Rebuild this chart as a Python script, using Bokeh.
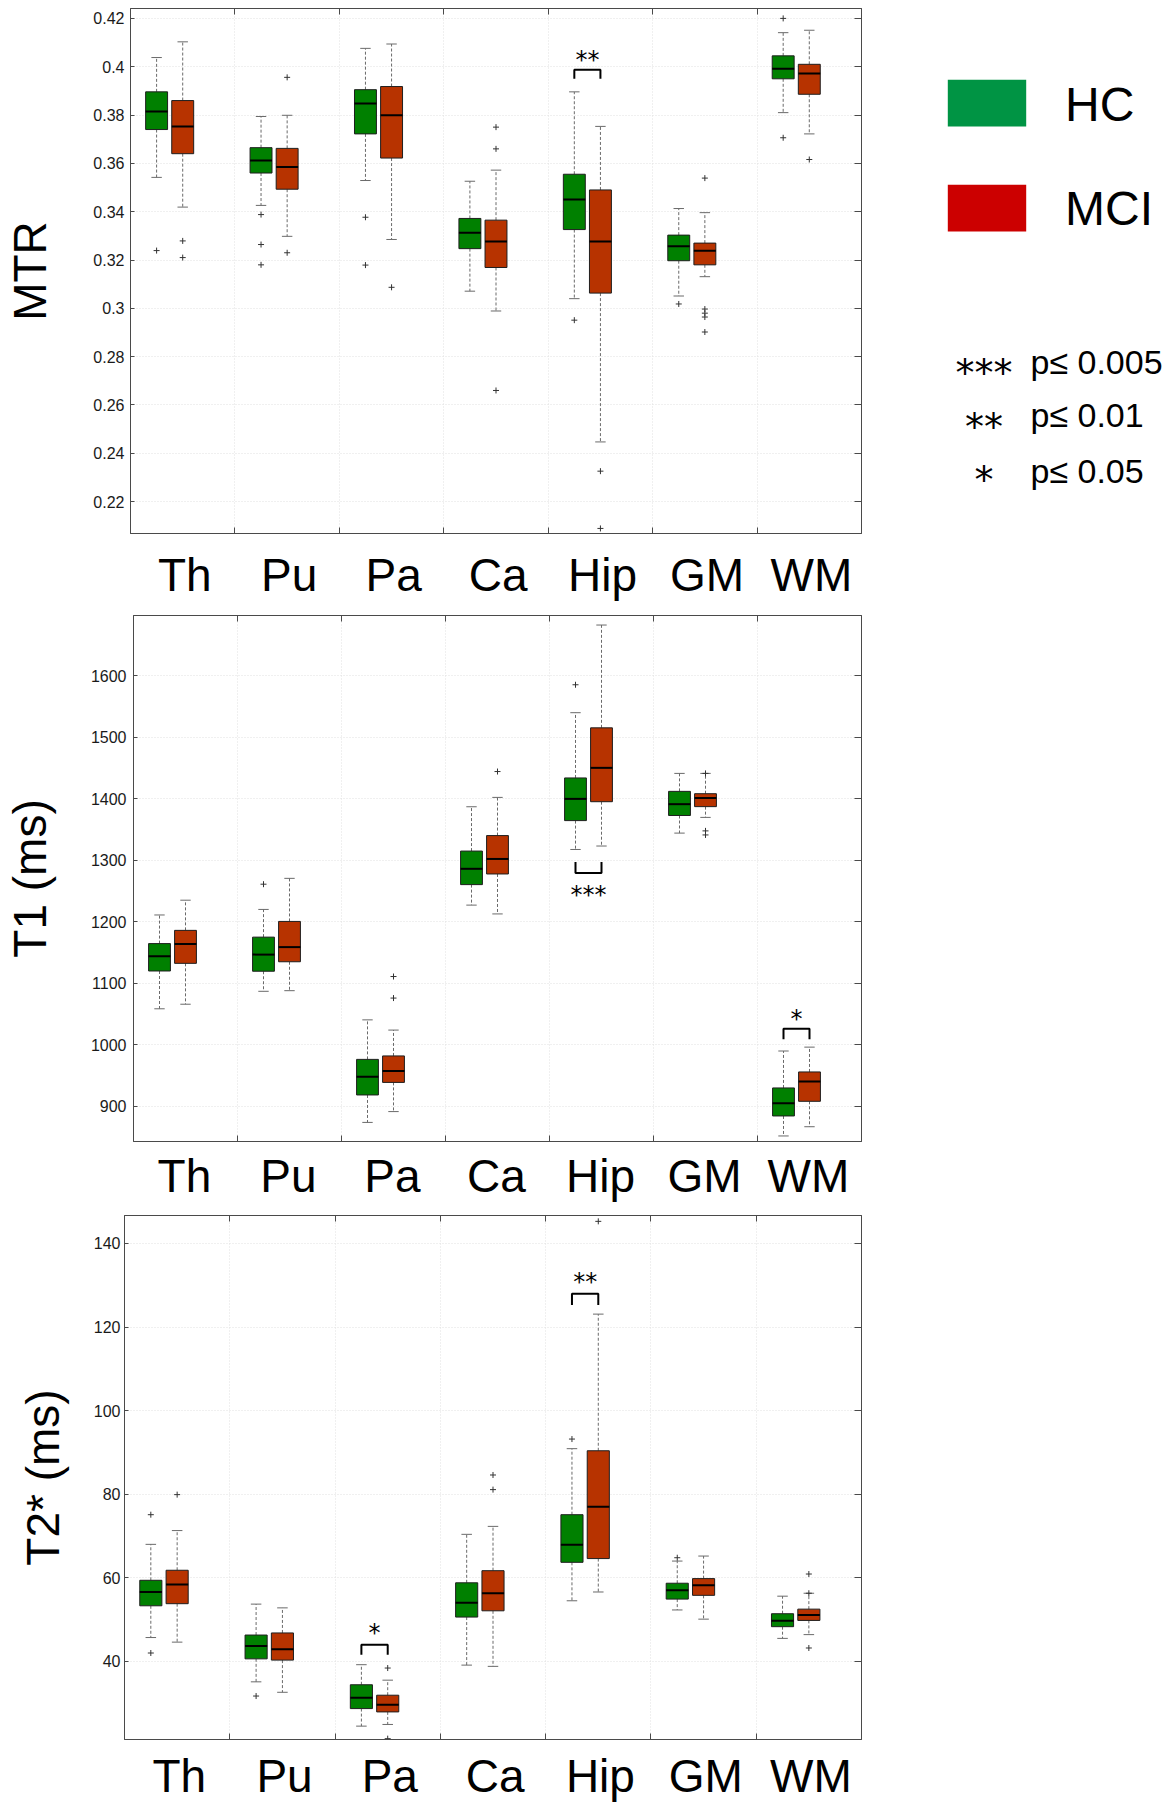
from bokeh.plotting import figure
from bokeh.models import Range1d, LinearAxis, FixedTicker, Grid, ColumnDataSource
from bokeh.layouts import column, row
from bokeh.embed import file_html
from bokeh.resources import INLINE
from bokeh.core.properties import value

categories = ["Th", "Pu", "Pa", "Ca", "Hip", "GM", "WM"]

# ---------------- MTR ----------------
mtr_hc_uw = [0.4038, 0.3794, 0.4076, 0.3526, 0.3896, 0.3413, 0.4141]
mtr_hc_q3 = [0.3896, 0.3665, 0.3905, 0.3372, 0.3555, 0.3303, 0.4045]
mtr_hc_med = [0.3815, 0.3612, 0.3848, 0.3313, 0.3450, 0.3257, 0.3992]
mtr_hc_q1 = [0.3740, 0.3560, 0.3722, 0.3247, 0.3326, 0.3197, 0.3950]
mtr_hc_lw = [0.3542, 0.3426, 0.3529, 0.3071, 0.3040, 0.3051, 0.3810]
mtr_hc_out = [[0.3239], [0.3388, 0.3264, 0.318], [0.3377, 0.3179], [], [0.2951], [0.3018], [0.42, 0.3706]]

mtr_mci_uw = [0.4103, 0.3799, 0.4094, 0.3572, 0.3753, 0.3396, 0.4151]
mtr_mci_q3 = [0.3860, 0.3662, 0.3918, 0.3365, 0.3490, 0.3270, 0.4010]
mtr_mci_med = [0.3753, 0.3585, 0.3799, 0.3277, 0.3277, 0.3238, 0.3972]
mtr_mci_q1 = [0.3640, 0.3493, 0.3622, 0.3169, 0.3063, 0.3180, 0.3886]
mtr_mci_lw = [0.3419, 0.3298, 0.3285, 0.2989, 0.2447, 0.3131, 0.3722]
mtr_mci_out = [[0.3279, 0.321], [0.3956, 0.323], [0.3087], [0.375, 0.366, 0.266], [0.2326, 0.2089],
               [0.3539, 0.2997, 0.298, 0.2964, 0.2902], [0.3616]]

mtr_ticks = [0.22, 0.24, 0.26, 0.28, 0.3, 0.32, 0.34, 0.36, 0.38, 0.4, 0.42]
mtr_tick_labels = ["0.22", "0.24", "0.26", "0.28", "0.3", "0.32", "0.34", "0.36", "0.38", "0.4", "0.42"]
mtr_range = (0.2068, 0.4241)
# (category, stars, bar level, leg end, star centre)
mtr_sig = [("Hip", "**", 0.3987, 0.3950, 0.4042)]

# ---------------- T1 ----------------
t1_hc_uw = [1211, 1220, 1040.6, 1386.8, 1539.6, 1441, 990]
t1_hc_q3 = [1164.5, 1175, 976.4, 1314.8, 1433.6, 1411.8, 930]
t1_hc_med = [1144, 1146.6, 948, 1286, 1399.6, 1391, 905]
t1_hc_q1 = [1120, 1119.6, 918.6, 1260.3, 1364.3, 1372.6, 884.5]
t1_hc_lw = [1058.6, 1087, 874, 1227, 1317.4, 1344, 852]
t1_hc_out = [[], [1261], [], [], [1585], [], []]

t1_mci_uw = [1235, 1270.5, 1024, 1402, 1682, 1441, 996.3]
t1_mci_q3 = [1186, 1200.5, 982, 1340, 1515, 1408, 956]
t1_mci_med = [1164, 1158.8, 957.7, 1302, 1450, 1401, 940.4]
t1_mci_q1 = [1132.4, 1135, 939, 1277.6, 1395, 1387, 908.3]
t1_mci_lw = [1066, 1088, 891.6, 1212.7, 1323, 1369.5, 867]
t1_mci_out = [[], [], [1111, 1076], [1444], [], [1441, 1347.6, 1341], []]

t1_ticks = [900, 1000, 1100, 1200, 1300, 1400, 1500, 1600]
t1_tick_labels = ["900", "1000", "1100", "1200", "1300", "1400", "1500", "1600"]
t1_range = (843, 1697.5)
t1_sig = [("Hip", "***", 1279, 1297, 1250), ("WM", "*", 1026, 1009, 1048)]

# ---------------- T2* ----------------
t2_hc_uw = [68.0, 53.7, 39.2, 70.4, 90.9, 64.0, 55.6]
t2_hc_q3 = [59.4, 46.3, 34.4, 58.8, 75.1, 58.7, 51.4]
t2_hc_med = [56.6, 43.7, 31.3, 54.0, 67.9, 57.0, 49.7]
t2_hc_q1 = [53.3, 40.6, 28.7, 50.6, 63.7, 54.9, 48.3]
t2_hc_lw = [45.7, 35.1, 24.5, 39.1, 54.5, 52.3, 45.5]
t2_hc_out = [[75.1, 42.0], [31.7], [], [], [93.2], [64.8], []]

t2_mci_uw = [71.3, 52.8, 35.5, 72.3, 123.1, 65.2, 56.3]
t2_mci_q3 = [61.8, 46.8, 31.9, 61.7, 90.4, 59.8, 52.5]
t2_mci_med = [58.4, 42.9, 29.6, 56.3, 77.0, 58.2, 51.1]
t2_mci_q1 = [53.8, 40.3, 27.9, 52.1, 64.6, 55.8, 49.8]
t2_mci_lw = [44.6, 32.6, 24.9, 38.8, 56.6, 50.1, 46.4]
t2_mci_out = [[79.9], [], [38.4, 21.5], [84.6, 81.1], [145.3], [], [60.9, 56.3, 43.2]]

t2_ticks = [40, 60, 80, 100, 120, 140]
t2_tick_labels = ["40", "60", "80", "100", "120", "140"]
t2_range = (21.3, 146.7)
t2_sig = [("Pa", "*", 44.0, 41.6, 47.6), ("Hip", "**", 128.0, 125.3, 131.7)]

legend_labels = ["HC", "MCI"]
p_stars = ["***", "**", "*"]
p_texts = ["p\u2264 0.005", "p\u2264 0.01", "p\u2264 0.05"]

# ---------------- style ----------------
FONT = "Liberation Sans"
STAR_FONT = "DejaVu Sans"
AX = "#4a4a4a"
HC_BOX = "#008000"
MCI_BOX = "#B73300"
HC_LEG = "#009444"
MCI_LEG = "#CC0000"
EDGE = "#1e1e1e"
WHISK = "#6a6a6a"
GRID = "#e0e0e0"
OFFS = {"HC": 0.25, "MCI": 0.5}
BW = 0.21
CW = 0.1
FIG_W = 878
FRAME_RIGHT = 861
STAR_K = 0.15


def panel(height, bl, bt, bb, yr, ticks, tick_labels, ylabel, lab_standoff, tick_standoff,
          cat_standoff, label_pos, stats, sigs):
    n = len(categories)
    p = figure(width=FIG_W, height=height, x_range=Range1d(0, n), y_range=Range1d(*yr),
               x_axis_location=None, y_axis_location=None, toolbar_location=None,
               output_backend="svg", min_border_left=bl, min_border_right=FIG_W - FRAME_RIGHT,
               min_border_top=bt, min_border_bottom=bb)
    for g in list(p.grid):
        g.visible = False
    p.outline_line_color = AX
    p.outline_line_width = 1
    p.background_fill_color = "white"
    p.border_fill_color = "white"

    seps = list(range(1, n))
    centers = [i + label_pos for i in range(n)]

    p.add_layout(Grid(dimension=0, ticker=FixedTicker(ticks=seps), grid_line_color=GRID,
                      grid_line_dash="1 2", grid_line_width=1))
    p.add_layout(Grid(dimension=1, ticker=FixedTicker(ticks=ticks), grid_line_color=GRID,
                      grid_line_dash="1 2", grid_line_width=1))

    left = LinearAxis(ticker=FixedTicker(ticks=ticks),
                      major_label_overrides=dict(zip(ticks, tick_labels)),
                      axis_label=ylabel, axis_label_text_font=FONT,
                      axis_label_text_font_size="46px", axis_label_text_font_style="normal",
                      axis_label_text_color="black", axis_label_standoff=lab_standoff,
                      major_label_text_font=FONT, major_label_text_font_size="16px",
                      major_label_text_color="#1a1a1a", major_label_standoff=tick_standoff,
                      major_tick_in=4, major_tick_out=0, minor_tick_line_color=None,
                      axis_line_color=AX, major_tick_line_color=AX)
    p.add_layout(left, "left")
    right = LinearAxis(ticker=FixedTicker(ticks=ticks), major_label_text_font_size="1px",
                       major_label_text_color=None, major_label_standoff=0,
                       major_tick_in=7, major_tick_out=0, minor_tick_line_color=None,
                       axis_line_color=AX, major_tick_line_color=AX)
    p.add_layout(right, "right")
    top = LinearAxis(ticker=FixedTicker(ticks=seps), major_label_text_font_size="1px",
                     major_label_text_color=None, major_label_standoff=0,
                     major_tick_in=6, major_tick_out=0, minor_tick_line_color=None,
                     axis_line_color=AX, major_tick_line_color=AX)
    p.add_layout(top, "above")
    bot_ticks = LinearAxis(ticker=FixedTicker(ticks=seps), major_label_text_font_size="1px",
                           major_label_text_color=None, major_label_standoff=0,
                           major_tick_in=6, major_tick_out=0, minor_tick_line_color=None,
                           axis_line_color=AX, major_tick_line_color=AX)
    p.add_layout(bot_ticks, "below")
    bot_labels = LinearAxis(ticker=FixedTicker(ticks=centers),
                            major_label_overrides=dict(zip(centers, categories)),
                            major_label_text_font=FONT, major_label_text_font_size="46px",
                            major_label_text_color="black", major_label_standoff=cat_standoff,
                            major_tick_line_color=None, minor_tick_line_color=None,
                            axis_line_color=None)
    p.add_layout(bot_labels, "below")

    colors = {"HC": HC_BOX, "MCI": MCI_BOX}
    for g in ["HC", "MCI"]:
        st = stats[g]
        xs = [i + OFFS[g] for i in range(n)]
        src = ColumnDataSource(dict(
            x=xs, x0=[x - BW / 2 for x in xs], x1=[x + BW / 2 for x in xs],
            c0=[x - CW / 2 for x in xs], c1=[x + CW / 2 for x in xs],
            lw=st["lw"], q1=st["q1"], med=st["med"], q3=st["q3"], uw=st["uw"]))
        p.segment("x", "q3", "x", "uw", source=src, line_color=WHISK, line_dash="3 2", line_width=1)
        p.segment("x", "q1", "x", "lw", source=src, line_color=WHISK, line_dash="3 2", line_width=1)
        p.segment("c0", "uw", "c1", "uw", source=src, line_color=WHISK, line_width=1)
        p.segment("c0", "lw", "c1", "lw", source=src, line_color=WHISK, line_width=1)
        p.vbar(x="x", width=BW, bottom="q1", top="q3", source=src, fill_color=colors[g],
               line_color=EDGE, line_width=1)
        p.segment("x0", "med", "x1", "med", source=src, line_color="black", line_width=2)
        ox, oy = [], []
        for i, vals in enumerate(st["out"]):
            for v in vals:
                ox.append(i + OFFS[g])
                oy.append(v)
        p.scatter(ox, oy, marker="cross", size=6, line_color="#333333", line_width=1)

    frame_h = height - bt - bb
    du = (yr[1] - yr[0]) / frame_h
    fs = 24
    for cat, stars, bar, leg, ctr in sigs:
        i = categories.index(cat)
        xa, xb = i + OFFS["HC"], i + OFFS["MCI"]
        p.line([xa, xa, xb, xb], [leg, bar, bar, leg], line_color="black", line_width=2)
        p.text([(xa + xb) / 2], [ctr - STAR_K * fs * du], text=[stars], text_font=value(STAR_FONT),
               text_font_size=f"{fs}px", text_align="center", text_baseline="alphabetic",
               text_color="black")
    return p


def mk(uw, q3, med, q1, lw, out):
    return dict(uw=uw, q3=q3, med=med, q1=q1, lw=lw, out=out)


p1 = panel(611, 130, 8, 78, mtr_range, mtr_ticks, mtr_tick_labels, "MTR", 34, 6, 9, 0.52,
           {"HC": mk(mtr_hc_uw, mtr_hc_q3, mtr_hc_med, mtr_hc_q1, mtr_hc_lw, mtr_hc_out),
            "MCI": mk(mtr_mci_uw, mtr_mci_q3, mtr_mci_med, mtr_mci_q1, mtr_mci_lw, mtr_mci_out)},
           mtr_sig)
p2 = panel(600, 133, 4, 70, t1_range, t1_ticks, t1_tick_labels, "T1 (ms)", 32, 7, 2, 0.49,
           {"HC": mk(t1_hc_uw, t1_hc_q3, t1_hc_med, t1_hc_q1, t1_hc_lw, t1_hc_out),
            "MCI": mk(t1_mci_uw, t1_mci_q3, t1_mci_med, t1_mci_q1, t1_mci_lw, t1_mci_out)},
           t1_sig)
p3 = panel(593, 124, 4, 65, t2_range, t2_ticks, t2_tick_labels, "T2* (ms)", 22, 4, 4, 0.52,
           {"HC": mk(t2_hc_uw, t2_hc_q3, t2_hc_med, t2_hc_q1, t2_hc_lw, t2_hc_out),
            "MCI": mk(t2_mci_uw, t2_mci_q3, t2_mci_med, t2_mci_q1, t2_mci_lw, t2_mci_out)},
           t2_sig)

# ---------------- legend panel (its frame is aligned with p1's frame: page y 8..533) ----------------
LW, LH = 1175 - FIG_W, 611
lg = figure(width=LW, height=LH, x_range=Range1d(0, LW), y_range=Range1d(533, 8),
            x_axis_location=None, y_axis_location=None, toolbar_location=None,
            output_backend="svg", min_border=0, min_border_left=0, min_border_right=0,
            min_border_top=0, min_border_bottom=0)
for g in list(lg.grid):
    g.visible = False
lg.outline_line_color = None
sw_tops = [79.3, 184.3]
lg.quad(left=[69.3, 69.3], right=[147.7, 147.7], top=sw_tops, bottom=[t + 46.7 for t in sw_tops],
        fill_color=[HC_LEG, MCI_LEG], line_color=None)
# text y = visual cap centre (as rendered by this backend)
lg.text([186.5, 186.5], [103.6, 208.0], text=legend_labels, text_font=value(FONT),
        text_font_size="48px", text_align="left", text_baseline="alphabetic", text_color="black")
star_centers = [365.0, 418.5, 472.0]
sfs = 38
lg.text([105.6] * 3, [c + 0.2 * sfs for c in star_centers], text=p_stars, text_font=value(STAR_FONT),
        text_font_size=f"{sfs}px", text_align="center", text_baseline="alphabetic", text_color="black")
lg.text([152.0] * 3, [361.0, 414.5, 470.0], text=p_texts, text_font=value(FONT),
        text_font_size="34px", text_align="left", text_baseline="alphabetic", text_color="black")

layout = column(row(p1, lg), row(p2), row(p3))
open("out.html", "w").write(file_html(layout, INLINE))
